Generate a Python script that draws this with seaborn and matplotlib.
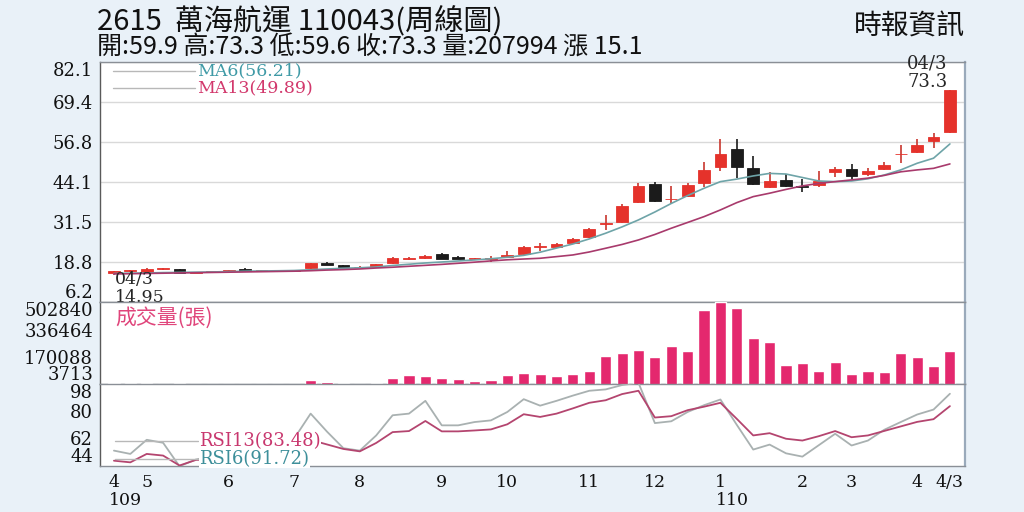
import numpy as np
import pandas as pd
import matplotlib
matplotlib.use("Agg")
import matplotlib.pyplot as plt
import matplotlib.transforms as mtransforms
import seaborn as sns

# ---------------- data (weekly, 109/04 .. 110/04/03) ----------------
weeks = list(range(52))
opens = [15.35, 16.0, 15.8, 16.6, 16.6, 15.5, 15.75, 16.0, 16.8, 16.2, 16.1, 16.2,
         16.9, 18.6, 17.9, 17.2, 17.4, 18.5, 20.0, 20.3, 21.35, 20.6, 19.85, 19.9,
         20.6, 21.4, 23.7, 23.75, 25.0, 26.9, 31.0, 31.5, 38.0, 43.6, 38.7, 39.7,
         43.8, 48.9, 54.6, 48.7, 42.5, 44.8, 42.8, 43.3, 47.2, 48.3, 46.7, 48.2,
         52.9, 53.8, 57.2, 59.9]
highs = [16.0, 16.4, 17.0, 17.0, 16.8, 15.9, 15.9, 16.4, 17.0, 16.5, 16.3, 16.5,
         18.6, 18.9, 18.1, 17.5, 18.3, 20.4, 20.6, 21.0, 21.9, 20.8, 20.2, 20.8,
         22.4, 24.0, 24.8, 25.0, 26.5, 29.6, 33.8, 37.3, 44.0, 44.2, 42.9, 44.0,
         50.4, 57.8, 57.7, 52.4, 47.2, 46.7, 45.1, 47.5, 49.05, 49.9, 48.5, 50.6,
         55.9, 57.8, 59.6, 73.3]
lows = [14.95, 15.7, 15.6, 16.3, 15.4, 15.4, 15.6, 15.9, 16.1, 16.0, 16.0, 16.1,
        16.8, 17.8, 17.3, 16.9, 17.2, 18.4, 19.6, 20.0, 19.9, 19.8, 19.5, 19.0,
        20.5, 21.2, 22.4, 23.5, 24.8, 26.6, 29.0, 31.2, 37.5, 37.8, 37.3, 39.3,
        42.7, 47.8, 45.4, 43.3, 42.2, 42.5, 41.15, 42.5, 45.9, 45.2, 46.1, 48.0,
        50.1, 53.5, 54.9, 59.6]
closes = [15.95, 16.05, 16.8, 16.65, 15.5, 15.8, 15.8, 16.2, 16.2, 16.25, 16.25, 16.4,
          18.5, 18.0, 17.4, 17.25, 18.2, 20.1, 20.1, 20.8, 20.0, 19.9, 19.9, 19.95,
          21.2, 23.75, 23.8, 24.6, 26.2, 29.25, 31.2, 36.6, 43.0, 38.1, 38.9, 43.3,
          48.0, 53.0, 48.8, 43.6, 44.6, 42.9, 42.6, 44.6, 48.2, 46.1, 47.7, 49.6,
          53.1, 55.9, 58.35, 73.3]
volume = [11000, 9000, 10500, 6500, 9500, 6000, 5500, 6200, 8500, 5000, 5800, 4500,
          31700, 15900, 10000, 3713, 11600, 40200, 60300, 56100, 44000, 34200, 23800, 29900,
          60300, 74300, 68200, 52400, 68200, 82800, 177800, 194200, 210700, 169900, 238700, 206400,
          454100, 502840, 470000, 283700, 263000, 121200, 131500, 82800, 137600, 68200, 86500, 76800,
          192400, 168100, 116900, 207994]
ma6 = [15.28, 15.37, 15.43, 15.56, 15.62, 15.69, 15.75, 15.88, 16.0, 16.07, 16.13, 16.22,
       16.45, 16.7, 16.92, 17.08, 17.33, 17.8, 18.19, 18.6, 18.91, 19.23, 19.55, 19.93,
       20.4, 21.0, 22.0, 23.3, 24.6, 26.2, 28.0, 30.0, 32.2, 34.7, 37.4, 39.9,
       42.2, 44.3, 45.1, 46.1, 46.9, 46.7, 45.6, 44.5, 44.3, 44.5, 45.2, 46.4,
       48.0, 50.1, 51.7, 56.21]
ma13 = [15.15, 15.2, 15.28, 15.36, 15.45, 15.52, 15.6, 15.68, 15.76, 15.84, 15.92, 16.0,
        16.15, 16.35, 16.5, 16.7, 17.0, 17.25, 17.55, 17.85, 18.15, 18.5, 18.85, 19.25,
        19.6, 19.85, 20.08, 20.6, 21.13, 22.07, 23.25, 24.45, 25.87, 27.6, 29.57, 31.4,
        33.24, 35.36, 37.67, 39.56, 40.64, 41.84, 42.95, 43.74, 44.3, 44.85, 45.4, 46.27,
        47.4, 48.0, 48.5, 49.89]
rsi6 = [53.9, 51.7, 61.1, 59.1, 43.5, 48.0, 50.0, 55.0, 52.0, 53.0, 55.0, 62.0,
        78.5, 66.5, 55.5, 53.9, 64.0, 77.4, 78.5, 87.0, 70.7, 70.7, 72.9, 74.0,
        79.6, 88.1, 83.8, 87.0, 90.5, 93.7, 94.6, 97.5, 99.0, 72.2, 73.4, 79.6,
        84.1, 87.9, 71.0, 54.6, 57.9, 52.1, 49.9, 57.5, 65.1, 57.3, 60.6, 67.8,
        72.9, 77.9, 81.2, 91.72]
rsi13 = [47.2, 46.1, 51.7, 50.6, 44.0, 47.7, 48.0, 51.0, 50.0, 49.5, 50.5, 53.0,
         61.0, 58.0, 55.0, 53.4, 59.0, 66.2, 66.9, 73.6, 66.7, 66.7, 67.3, 68.0,
         71.4, 78.1, 76.3, 78.5, 82.0, 85.7, 87.4, 91.5, 93.7, 75.9, 76.8, 80.8,
         83.1, 85.7, 75.0, 64.0, 65.5, 61.8, 60.6, 63.5, 66.9, 62.8, 64.0, 67.0,
         70.0, 73.0, 74.8, 83.48]

month_ticks = [0, 2, 7, 11, 15, 20, 24, 29, 33, 37, 42, 45, 49, 51]
month_labels = ["4", "5", "6", "7", "8", "9", "10", "11", "12", "1", "2", "3", "4", "4/3"]
year_ticks = [0, 37]
year_labels = ["109", "110"]
price_ticks = [82.1, 69.4, 56.8, 44.1, 31.5, 18.8, 6.2]
vol_ticks = [502840, 336464, 170088, 3713]
rsi_ticks = [98, 80, 62, 44]

title_text = "2615  萬海航運 110043(周線圖)"
info_text = "開:59.9 高:73.3 低:59.6 收:73.3 量:207994 漲 15.1"
source_text = "時報資訊"
vol_label = "成交量(張)"

# ---------------- style ----------------
sns.set_style("white")
plt.rcParams['font.family'] = ['DejaVu Serif', 'Noto Sans CJK TC']
CJK = ['Noto Sans CJK TC', 'DejaVu Sans']
BG = '#e9f1f8'
RED = '#e5322b'
BLACK = '#1b1b1b'
VOLC = '#e4286e'
MA6C = '#6ea4a8'
MA13C = '#a83a6c'
R6C = '#a9b1b1'
R13C = '#b4456f'
SPINE = '#8a8f96'

fig = plt.figure(figsize=(10.24, 5.12), dpi=100, facecolor=BG)
L, W = 100 / 1024, 865 / 1024
def fy(py):
    return 1 - py / 512
axp = fig.add_axes([L, fy(302.2), W, (302.2 - 62) / 512])
axv = fig.add_axes([L, fy(384.3), W, (384.3 - 302.2) / 512])
axr = fig.add_axes([L, fy(465.5), W, (465.5 - 384.3) / 512])

xlim = (-0.85, 51.92)
for ax in (axp, axv, axr):
    ax.set_facecolor('white')
    for s in ax.spines.values():
        s.set_color(SPINE)
        s.set_linewidth(1.0)
    ax.spines['left'].set_color('#5a5a5a')
    ax.spines['right'].set_color('#9aaabb')
    ax.spines['right'].set_linewidth(1.6)
    ax.tick_params(axis='y', length=0, pad=5, labelsize=13, colors='#111111')

# ---------------- price panel ----------------
df = pd.DataFrame({'week': weeks, 'open': opens, 'high': highs, 'low': lows, 'close': closes})
up = df['close'] >= df['open']
cols = np.where(up, RED, BLACK)
wick_cols = np.where(up, '#c8362e', BLACK)
axp.vlines(df['week'], df['low'], df['high'], colors=wick_cols, lw=1.2, zorder=2)
body = np.maximum((df['close'] - df['open']).abs(), 0.25)
axp.bar(df['week'], body, bottom=np.minimum(df['open'], df['close']), width=0.72,
        color=cols, edgecolor=cols, lw=0.6, zorder=3)
sns.lineplot(x=weeks, y=ma6, ax=axp, color=MA6C, lw=1.2, zorder=4, legend=False)
sns.lineplot(x=weeks, y=ma13, ax=axp, color=MA13C, lw=1.2, zorder=4, legend=False)
axp.set_xlim(*xlim)
axp.set_ylim(price_ticks[-1], price_ticks[0])
axp.set_yticks(price_ticks)
axp.set_yticklabels([f"{t}" for t in price_ticks])
axp.yaxis.grid(True, color='#d9d9d9', lw=1.0)
axp.set_axisbelow(True)
axp.set_xticks([])
labs = axp.get_yticklabels()
labs[0].set_va('top'); labs[-1].set_va('bottom')

# MA legend
ma6_y, ma13_y = 0.9625, 0.8918
axp.plot([0.015, 0.110], [ma6_y, ma6_y], transform=axp.transAxes, color='#b8b8b8', lw=1.0)
axp.plot([0.015, 0.110], [ma13_y, ma13_y], transform=axp.transAxes, color='#b8b8b8', lw=1.0)
axp.text(0.112, ma6_y, f"MA6({ma6[-1]:.2f})", transform=axp.transAxes, color='#3f9aa6',
         fontsize=12.5, va='center', ha='left')
axp.text(0.112, ma13_y, f"MA13({ma13[-1]:.2f})", transform=axp.transAxes, color='#d2386c',
         fontsize=12.5, va='center', ha='left')

# high / low annotations
axp.text(0.980, 0.992, "04/3", transform=axp.transAxes, ha='right', va='center',
         fontsize=13, clip_on=False, zorder=6)
axp.text(0.980, 0.917, f"{highs[-1]}", transform=axp.transAxes, ha='right', va='center',
         fontsize=13, clip_on=False, zorder=6)
axp.text(0.0173, 0.0935, "04/3", transform=axp.transAxes, ha='left', va='center',
         fontsize=12.5, clip_on=False, zorder=6)
axp.text(0.0173, 0.0196, f"{min(lows)}", transform=axp.transAxes, ha='left', va='center',
         fontsize=12.5, clip_on=False, zorder=6)

# ---------------- volume panel ----------------
sns.barplot(x=weeks, y=volume, ax=axv, color=VOLC, saturation=1, width=0.68, zorder=3)
axv.set_xlim(*xlim)
axv.set_ylim(vol_ticks[-1], vol_ticks[0])
axv.set_yticks(vol_ticks)
axv.set_yticklabels([str(t) for t in vol_ticks])
axv.set_xticks([])
axv.set_xlabel(''); axv.set_ylabel('')
vl = axv.get_yticklabels()
vl[0].set_va('top'); vl[-1].set_va('bottom')
axv.text(0.0173, 0.815, vol_label, transform=axv.transAxes, color='#e0457b', fontsize=15,
         family=CJK, va='center', ha='left')

# ---------------- RSI panel ----------------
sns.lineplot(x=weeks, y=rsi6, ax=axr, color=R6C, lw=1.3, legend=False, zorder=3)
sns.lineplot(x=weeks, y=rsi13, ax=axr, color=R13C, lw=1.3, legend=False, zorder=3)
axr.set_xlim(*xlim)
axr.set_ylim(rsi_ticks[-1], rsi_ticks[0])
axr.set_yticks(rsi_ticks)
axr.set_yticklabels([str(t) for t in rsi_ticks])
rl = axr.get_yticklabels()
rl[0].set_va('top'); rl[-1].set_va('bottom')
axr.set_xticks(month_ticks)
axr.set_xticklabels(month_labels)
axr.set_xticks(weeks, minor=True)
axr.tick_params(axis='x', which='both', direction='out', length=2.5, width=1, color='#777777',
                labelsize=12.5, pad=3.5, labelcolor='#111111')
r13_y, r6_y = 0.298, 0.085
axr.plot([0.0173, 0.113], [r13_y, r13_y], transform=axr.transAxes, color='#b8b8b8', lw=1.0, zorder=4)
axr.plot([0.0173, 0.113], [r6_y, r6_y], transform=axr.transAxes, color='#b8b8b8', lw=1.0, zorder=4)
axr.text(0.115, r13_y, f"RSI13({rsi13[-1]:.2f})", transform=axr.transAxes, color='#c8376e',
         fontsize=13, va='center', ha='left', zorder=5,
         bbox=dict(facecolor='white', edgecolor='none', pad=0.3))
axr.text(0.115, r6_y, f"RSI6({rsi6[-1]:.2f})", transform=axr.transAxes, color='#3d8f9a',
         fontsize=13, va='center', ha='left', zorder=5,
         bbox=dict(facecolor='white', edgecolor='none', pad=0.3))
trans = mtransforms.blended_transform_factory(axr.transData, axr.transAxes)
for t, lab in zip(year_ticks, year_labels):
    axr.text(t - 0.3, -0.43, lab, transform=trans, ha='left', va='center', fontsize=12.5,
             color='#111111', clip_on=False)

# ---------------- header ----------------
fig.text(97 / 1024, fy(21), title_text, family=CJK, fontsize=21, ha='left', va='center', color='#111111')
fig.text(97 / 1024, fy(47), info_text, family=CJK, fontsize=18, ha='left', va='center', color='#111111')
fig.text(965 / 1024, fy(27), source_text, family=CJK, fontsize=20, ha='right', va='center', color='#111111')

fig.savefig("out.png", dpi=100, facecolor=BG)
